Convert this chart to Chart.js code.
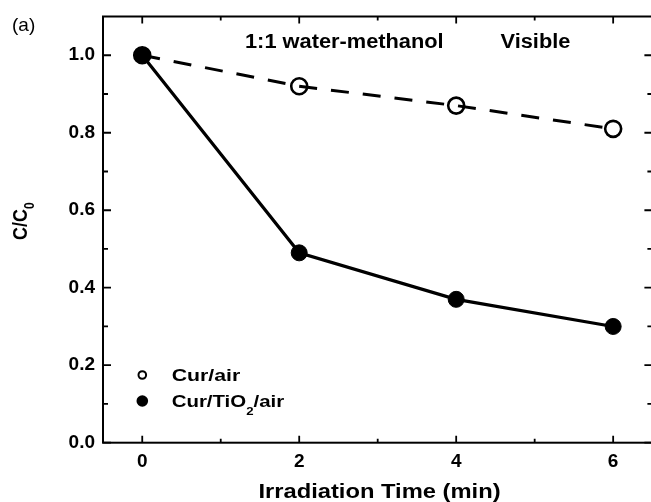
<!DOCTYPE html>
<html><head><meta charset="utf-8">
<script src="https://cdn.jsdelivr.net/npm/chart.js@4.4.1/dist/chart.umd.min.js"></script>
<style>html,body{margin:0;padding:0;background:#fff;overflow:hidden}
#c{display:block}</style></head>
<body><canvas id="c" width="663" height="502" style="width:663px;height:502px"></canvas>
<script>
// ---- data ----
const timeValues = [0, 2, 4, 6];
const curAir = [1.00, 0.92, 0.87, 0.81];
const curTiO2Air = [1.00, 0.49, 0.37, 0.30];
const xTickValues = [0, 2, 4, 6];
const xTickLabels = ['0', '2', '4', '6'];
const xMinorTicks = [1, 3, 5];
const yTickValues = [0.0, 0.2, 0.4, 0.6, 0.8, 1.0];
const yTickLabels = ['0.0', '0.2', '0.4', '0.6', '0.8', '1.0'];
const yMinorTicks = [0.1, 0.3, 0.5, 0.7, 0.9];
const seriesNames = ['Cur/air', 'Cur/TiO2/air'];
const panelLabel = '(a)';
const solventLabel = '1:1 water-methanol';
const lightLabel = 'Visible';
const xTitle = 'Irradiation Time (min)';

const FONT = '"Liberation Sans", Arial, Helvetica, sans-serif';

function drawRich(ctx, parts, x, y, size, sx, align) {
  ctx.save();
  ctx.textBaseline = 'alphabetic';
  ctx.textAlign = 'left';
  let total = 0;
  for (const p of parts) {
    ctx.font = 'bold ' + (p.sub ? Math.round(size * 0.62) : size) + 'px ' + FONT;
    p.w = ctx.measureText(p.t).width;
    total += p.w;
  }
  let cx = align === 'center' ? -total / 2 : 0;
  ctx.translate(x, y);
  ctx.scale(sx, 1);
  for (const p of parts) {
    ctx.font = 'bold ' + (p.sub ? Math.round(size * 0.62) : size) + 'px ' + FONT;
    ctx.fillText(p.t, cx, p.sub ? size * 0.48 : 0);
    cx += p.w;
  }
  ctx.restore();
}

const framePlugin = {
  id: 'frame',
  afterDraw(chart) {
    const { ctx, chartArea: a, scales: { x, y } } = chart;
    ctx.save();
    ctx.strokeStyle = '#000';
    ctx.fillStyle = '#000';
    ctx.lineWidth = 2;
    ctx.strokeRect(a.left, a.top, a.right - a.left, a.bottom - a.top);
    ctx.lineWidth = 1.8;
    ctx.beginPath();
    const xt = [...xTickValues.map(v => [v, 7]), ...xMinorTicks.map(v => [v, 4])];
    for (const [v, L] of xt) {
      const px = x.getPixelForValue(v);
      ctx.moveTo(px, a.bottom); ctx.lineTo(px, a.bottom - L);
      ctx.moveTo(px, a.top); ctx.lineTo(px, a.top + L);
    }
    const yt = [...yTickValues.map(v => [v, 8]), ...yMinorTicks.map(v => [v, 5])];
    for (const [v, L] of yt) {
      const py = y.getPixelForValue(v);
      ctx.moveTo(a.left, py); ctx.lineTo(a.left + L, py);
      ctx.moveTo(a.right, py); ctx.lineTo(a.right - L, py);
    }
    ctx.stroke();

    // panel label
    ctx.font = '19px ' + FONT;
    ctx.textBaseline = 'alphabetic';
    ctx.textAlign = 'left';
    ctx.fillText(panelLabel, 12, 31);

    // annotations
    drawRich(ctx, [{ t: solventLabel }], 245, 48, 20, 1.09, 'left');
    drawRich(ctx, [{ t: lightLabel }], 500.5, 48, 20, 1.09, 'left');

    // x title
    drawRich(ctx, [{ t: xTitle }], 379.5, 498, 21, 1.13, 'center');

    // y title (rotated)
    ctx.save();
    ctx.translate(27, 240);
    ctx.rotate(-Math.PI / 2);
    ctx.scale(1, 1.15);
    ctx.font = 'bold 18px ' + FONT;
    ctx.textAlign = 'left';
    ctx.textBaseline = 'alphabetic';
    ctx.fillText('C/C', 0, 0);
    const w = ctx.measureText('C/C').width;
    ctx.font = 'bold 12px ' + FONT;
    ctx.fillText('0', w, 6.5);
    ctx.restore();

    // legend
    const lx = 142.3;
    ctx.lineWidth = 2;
    ctx.beginPath(); ctx.arc(lx, 375, 3.8, 0, Math.PI * 2); ctx.stroke();
    ctx.beginPath(); ctx.arc(lx, 401, 5.8, 0, Math.PI * 2); ctx.fill();
    drawRich(ctx, [{ t: seriesNames[0] }], 171.7, 380.7, 17, 1.25, 'left');
    drawRich(ctx, [{ t: 'Cur/TiO' }, { t: '2', sub: true }, { t: '/air' }], 171.7, 406.7, 17, 1.2, 'left');
    ctx.restore();
  }
};

new Chart(document.getElementById('c'), {
  type: 'line',
  data: {
    datasets: [
      {
        label: seriesNames[0],
        data: timeValues.map((t, i) => ({ x: t, y: curAir[i] })),
        borderColor: '#000', borderWidth: 3, borderDash: [18, 14],
        pointRadius: 8, pointBorderWidth: 2.6,
        pointBackgroundColor: 'rgba(0,0,0,0)', pointBorderColor: '#000',
        fill: false, tension: 0
      },
      {
        label: seriesNames[1],
        data: timeValues.map((t, i) => ({ x: t, y: curTiO2Air[i] })),
        borderColor: '#000', borderWidth: 3.2,
        pointRadius: 8, pointBorderWidth: 1,
        pointBackgroundColor: '#000', pointBorderColor: '#000',
        fill: false, tension: 0
      }
    ]
  },
  options: {
    responsive: false, animation: false, devicePixelRatio: 1,
    layout: { padding: { top: 16.5, right: 0, left: 0, bottom: 0 } },
    plugins: { legend: { display: false }, tooltip: { enabled: false } },
    scales: {
      x: {
        type: 'linear', min: -0.5, max: 6.5,
        grid: { display: false, drawTicks: false }, border: { display: false },
        afterBuildTicks: s => { s.ticks = xTickValues.map(v => ({ value: v })); },
        afterFit: s => { s.height = 59.3; s.paddingLeft = 0; s.paddingRight = 0; },
        ticks: {
          callback: v => { const i = xTickValues.indexOf(v); return i >= 0 ? xTickLabels[i] : ''; },
          font: { family: FONT, size: 19, weight: 'bold' }, color: '#000',
          padding: 8, maxRotation: 0, autoSkip: false
        }
      },
      y: {
        type: 'linear', min: 0, max: 1.1,
        grid: { display: false, drawTicks: false }, border: { display: false },
        afterBuildTicks: s => { s.ticks = yTickValues.map(v => ({ value: v })); },
        afterFit: s => { s.width = 103; s.paddingTop = 0; s.paddingBottom = 0; },
        ticks: {
          callback: v => { const i = yTickValues.findIndex(t => Math.abs(t - v) < 1e-9); return i >= 0 ? yTickLabels[i] : ''; },
          font: { family: FONT, size: 19, weight: 'bold' }, color: '#000',
          padding: 8, autoSkip: false
        }
      }
    }
  },
  plugins: [framePlugin]
});
</script></body></html>
